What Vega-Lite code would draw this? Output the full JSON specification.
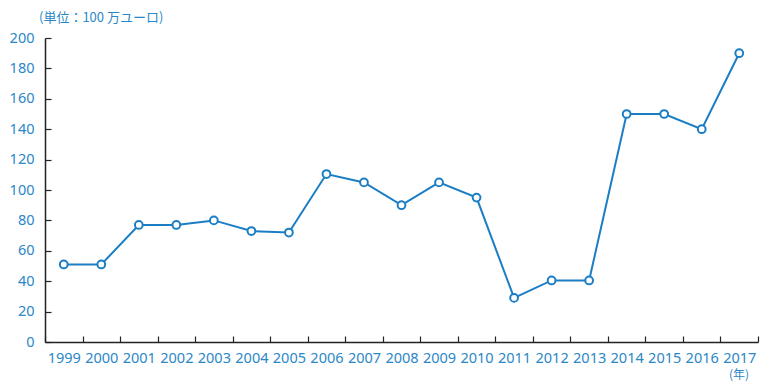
{
  "$schema": "https://vega.github.io/schema/vega-lite/v6.json",
  "autosize": "none",
  "padding": {"left": 45, "top": 38, "right": 5, "bottom": 43},
  "width": 713,
  "height": 304,
  "background": "white",
  "config": {
    "view": {"stroke": null},
    "font": "Noto Sans, Noto Sans CJK JP, sans-serif"
  },
  "data": {
    "values": [
      {"year": "1999", "value": 51},
      {"year": "2000", "value": 51},
      {"year": "2001", "value": 77},
      {"year": "2002", "value": 77},
      {"year": "2003", "value": 80},
      {"year": "2004", "value": 73},
      {"year": "2005", "value": 72},
      {"year": "2006", "value": 110.5},
      {"year": "2007", "value": 105},
      {"year": "2008", "value": 90},
      {"year": "2009", "value": 105},
      {"year": "2010", "value": 95},
      {"year": "2011", "value": 29},
      {"year": "2012", "value": 40.5},
      {"year": "2013", "value": 40.5},
      {"year": "2014", "value": 150},
      {"year": "2015", "value": 150},
      {"year": "2016", "value": 140},
      {"year": "2017", "value": 190}
    ]
  },
  "encoding": {
    "x": {
      "field": "year", "type": "ordinal",
      "scale": {"type": "band", "paddingInner": 0, "paddingOuter": 0},
      "axis": {
        "title": null, "labelAngle": 0, "tickBand": "extent", "labelOverlap": false,
        "domainColor": "#222", "domainWidth": 1.5, "tickColor": "#222", "tickWidth": 1.2,
        "tickSize": -6, "labelPadding": 15,
        "labelFontSize": 14.5, "labelColor": "#2a87c8",
        "labelFont": "Noto Sans, Noto Sans CJK JP, sans-serif"
      }
    },
    "y": {
      "field": "value", "type": "quantitative",
      "scale": {"domain": [0, 200], "nice": false},
      "axis": {
        "title": null, "values": [0, 20, 40, 60, 80, 100, 120, 140, 160, 180, 200],
        "tickCount": 20,
        "grid": false, "labelOverlap": false, "labelFlush": false,
        "domainColor": "#222", "domainWidth": 1.5, "tickColor": "#222", "tickWidth": 1.2,
        "tickSize": -6, "labelPadding": 17,
        "labelFontSize": 14.5, "labelColor": "#2a87c8",
        "labelFont": "Noto Sans, Noto Sans CJK JP, sans-serif"
      }
    }
  },
  "layer": [
    {
      "mark": {"type": "line", "color": "#1b7ec4", "strokeWidth": 2}
    },
    {
      "mark": {"type": "point", "filled": true, "fill": "white", "stroke": "#1b7ec4", "strokeWidth": 2, "size": 60, "opacity": 1}
    },
    {
      "data": {"values": [{"t": "(単位：100 万ユーロ)"}]},
      "mark": {"type": "text", "align": "left", "baseline": "middle", "x": -6, "y": -20, "fontSize": 13, "color": "#2a87c8", "font": "Noto Sans CJK JP"},
      "encoding": {"text": {"field": "t"}, "x": null, "y": null}
    },
    {
      "data": {"values": [{"t": "(年)"}]},
      "mark": {"type": "text", "align": "center", "baseline": "middle", "x": 694, "y": 337, "fontSize": 12, "color": "#2a87c8", "font": "Noto Sans CJK JP"},
      "encoding": {"text": {"field": "t"}, "x": null, "y": null}
    }
  ]
}
